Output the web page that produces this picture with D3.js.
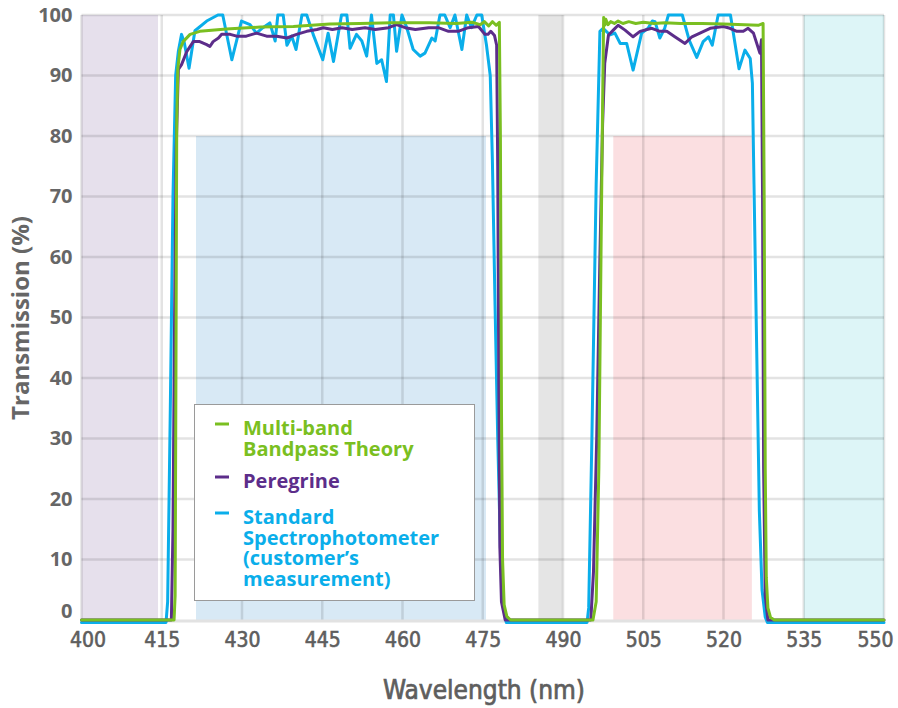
<!DOCTYPE html>
<html><head><meta charset="utf-8">
<script src="https://cdn.jsdelivr.net/npm/d3@7"></script>
<style>
html,body{margin:0;padding:0;background:#fff;}
svg{display:block;}
</style></head>
<body>
<svg id="chart" width="898" height="708"></svg>
<script>
// ---------- DATA ----------
const xTicks = [400,415,430,445,460,475,490,505,520,535,550];
const yTicks = [0,10,20,30,40,50,60,70,80,90,100];

// shaded wavelength regions: [start nm, end nm, top %]
const bandStart = [400, 421.4, 485.4, 499.4, 535.0];
const bandEnd   = [414.3, 475.6, 489.9, 525.3, 550.0];
const bandTop   = [100, 80, 100, 80, 100];

const seriesNames = ["Multi-band\nBandpass Theory", "Peregrine", "Standard\nSpectrophotometer\n(customer\u2019s\nmeasurement)"];

const theoryWl = [400,417.3,417.5,417.65,417.8,418.0,418.4,419.0,420.3,422.1,427.1,433.4,439.6,446.4,452,458,465,470,473,474.5,475.3,476.1,476.8,477.5,478.1,478.3,478.5,478.7,479.0,479.5,480.2,
  495.6,496.2,496.7,497.1,497.4,497.6,497.8,498.0,498.4,498.9,499.6,500.3,501.2,502.3,503.6,505,507,509,512,516,520,524,526.5,527.4,527.6,527.8,528.0,528.3,528.8,529.5,550];
const theoryT  = [0,0,4,40,82,91,94.3,95.6,96.8,97.3,97.7,98,98.1,98.5,98.6,98.7,98.7,98.6,98.8,98.4,98.9,98.2,98.9,98.3,98.8,80,35,10,2.5,0.6,0,
  0,3,25,60,85,99.6,98.3,99.3,98.4,98.9,98.6,99,98.6,98.9,98.6,98.8,98.6,98.7,98.6,98.6,98.5,98.4,98.3,98.6,70,25,7,2,0.4,0,0];

const peregrineWl = [400,416.8,417.1,417.4,417.7,418.1,418.7,419.7,420.9,422.1,423.4,424.0,424.6,425.6,426.2,427.8,429.0,430.8,432.7,434.6,436.5,438.4,440.2,442.1,444.0,445.2,446.9,448.7,450.6,453.0,454.9,457.4,458.9,460.5,462.4,464.9,466.7,468.6,470.4,472.3,474.2,475.4,476.0,476.5,477.2,477.6,477.8,478.0,478.2,478.5,479.2,
  495.2,495.7,496.3,496.9,497.4,497.8,498.5,499.4,500.3,501.6,503.1,504.4,506.6,508.1,509.4,510.9,512.8,514.1,515.6,517.5,520,521.2,522.5,523.7,524.6,525.6,526.8,527.1,527.3,527.5,527.8,528.3,550];
const peregrineT  = [0,0,15,50,78,91,91.8,94,95.6,95.6,95.1,94.8,95.6,96.2,96.8,96.8,96.5,96.5,97,96.5,96.5,96.2,96.8,97.3,97.6,97.9,97.6,97.9,97.6,97.9,97.6,97.9,98.4,97.9,97.6,97.9,97.9,97.3,97.3,97.9,98.1,96.8,96.8,97.3,96.6,95,75,40,12,3,0,
  0,8,30,60,82,92,96.7,97.5,98.3,97.5,96.4,97.3,97.8,97.3,97.3,96.4,95.3,96.4,97,97.8,98.1,97.8,97.3,97.3,97.8,97,93.7,95.9,70,25,4,0,0];

const spectroWl = [400,415.8,416.1,416.6,417.1,417.6,418.1,418.7,419.2,420.1,421.2,423.4,425.5,426.4,428.1,429.9,431.5,432.7,433.9,435.2,436.2,436.7,437.7,438.4,439.3,440.1,441.2,442.1,443.3,445.1,446.1,447.1,448.6,449.6,450.2,451.4,452.4,453.3,454.2,455.2,456.1,457.0,457.7,458.3,458.9,459.9,460.8,462.0,463.3,464.2,465.5,466.1,467.0,467.9,468.9,469.8,471.1,472.0,472.9,473.9,474.8,475.7,476.4,476.8,477.3,477.8,478.3,478.8,479.4,
  494.5,494.8,495.4,496.2,496.9,497.5,498.8,499.7,500.7,501.9,503.1,504.7,505.9,506.7,507.2,508.1,509.0,509.7,512.3,513.6,515.0,516.2,517.2,517.9,519.0,521.3,522.9,524.0,525.0,525.4,525.7,526.2,526.7,527.2,527.8,528.2,550];
const spectroT  = [-0.4,-0.4,3,35,70,90,94,96.8,95.5,91.2,97.4,99,100,100,92.6,99,98.4,97,97.9,98.7,95.7,100,100,95,96.5,94.3,100,100,96.8,92.6,97,92.3,100,100,94.5,96.8,95.7,93.2,100,92,92.6,89,100,100,94,100,97.9,94.3,93.2,93.7,96.2,95.7,100,100,97.9,100,94.3,100,97.9,100,100,95,90,76,52,30,12,3,-0.4,
  -0.4,2,30,72,97.3,97.8,96.7,97,95.3,95.3,90.9,97,97.8,99,98.9,96.2,97.8,100,100,95.8,93,95.6,96.4,95,100,100,91.1,94.2,92.8,88.7,72,45,18,5,0.5,-0.4,-0.4];

// ---------- STYLE ----------
const bandColors = ["#e6e0ec", "#d8e9f5", "#e5e5e5", "#fbdfe1", "#ddf5f7"];
const lineColors = ["#7abf21", "#5c2d8a", "#0aaeea"];

const svg = d3.select("#chart");
const x = d3.scaleLinear().domain([400, 550]).range([81.5, 884]);
const y = d3.scaleLinear().domain([0, 100]).range([620, 15]);

// bands
const bands = bandStart.map((s, i) => ({s, e: bandEnd[i], t: bandTop[i], c: bandColors[i]}));
svg.append("g").selectAll("rect").data(bands).join("rect")
  .attr("x", d => x(d.s)).attr("width", d => x(d.e) - x(d.s))
  .attr("y", d => y(d.t)).attr("height", d => y(0) - y(d.t))
  .attr("fill", d => d.c);

// grid
const grid = svg.append("g").attr("stroke", "rgba(0,0,0,0.11)").attr("stroke-width", 2.5);
grid.selectAll("line.h").data(yTicks.filter(v => v > 0)).join("line")
  .attr("x1", x(400)).attr("x2", x(550)).attr("y1", d => y(d)).attr("y2", d => y(d));
grid.selectAll("line.v").data(xTicks).join("line")
  .attr("y1", y(100)).attr("y2", y(0)).attr("x1", d => x(d)).attr("x2", d => x(d));

// x baseline
svg.append("line").attr("x1", x(400)).attr("x2", x(550)).attr("y1", y(0) + 1).attr("y2", y(0) + 1)
  .attr("stroke", "#e2e2e2").attr("stroke-width", 3);

// lines
const line = d3.line().x(d => x(d[0])).y(d => y(d[1])).curve(d3.curveLinear);
const series = [
  {wl: spectroWl, t: spectroT, c: lineColors[2]},
  {wl: peregrineWl, t: peregrineT, c: lineColors[1]},
  {wl: theoryWl, t: theoryT, c: lineColors[0]}
];
svg.append("g").selectAll("path").data(series).join("path")
  .attr("d", d => line(d.wl.map((w, i) => [w, d.t[i]])))
  .attr("fill", "none").attr("stroke", d => d.c).attr("stroke-width", 3)
  .attr("stroke-linejoin", "round").attr("stroke-linecap", "round");

// axes
const xAxis = svg.append("g").attr("transform", `translate(0,${y(0)})`)
  .call(d3.axisBottom(x).tickValues(xTicks).tickSize(0).tickPadding(12).tickFormat(d3.format("d")));
xAxis.select(".domain").remove();
xAxis.selectAll("text").attr("font-family", "'DejaVu Sans Condensed','DejaVu Sans',sans-serif")
  .attr("font-size", 21).attr("fill", "#5e5e5e").attr("stroke", "#5e5e5e").attr("stroke-width", 0.6)
  .attr("dx", d => d === 400 ? 6 : (d === 550 ? -9 : 0));

const yAxis = svg.append("g").attr("transform", `translate(${x(400)},0)`)
  .call(d3.axisLeft(y).tickValues(yTicks).tickSize(0).tickPadding(9).tickFormat(d3.format("d")));
yAxis.select(".domain").remove();
yAxis.selectAll("text").attr("font-family", "'Open Sans',sans-serif").attr("font-weight", 700)
  .attr("font-size", 20).attr("fill", "#666")
  .attr("dy", d => d === 0 ? "-0.15em" : "0.32em");

// axis titles
svg.append("text").attr("x", 484).attr("y", 699).attr("text-anchor", "middle")
  .attr("font-family", "'DejaVu Sans Condensed','DejaVu Sans',sans-serif").attr("font-size", 26)
  .attr("fill", "#5e5e5e").attr("stroke", "#5e5e5e").attr("stroke-width", 0.7)
  .text("Wavelength (nm)");
svg.append("text").attr("transform", "translate(29,318) rotate(-90)").attr("text-anchor", "middle")
  .attr("font-family", "'Open Sans',sans-serif").attr("font-weight", 700).attr("font-size", 24)
  .attr("fill", "#666").text("Transmission (%)");

// legend
const lg = svg.append("g");
lg.append("rect").attr("x", 194.5).attr("y", 404.5).attr("width", 280).attr("height", 196)
  .attr("fill", "#fff").attr("stroke", "#9a9a9a").attr("stroke-width", 1);
const legendItems = [
  {name: seriesNames[0], c: lineColors[0], y0: 428},
  {name: seriesNames[1], c: lineColors[1], y0: 481},
  {name: seriesNames[2], c: lineColors[2], y0: 517}
];
legendItems.forEach(it => {
  lg.append("line").attr("x1", 215).attr("x2", 229).attr("y1", it.y0 - 4).attr("y2", it.y0 - 4)
    .attr("stroke", it.c).attr("stroke-width", 3);
  const t = lg.append("text").attr("font-family", "'Open Sans',sans-serif").attr("font-weight", 700)
    .attr("font-size", 20).attr("fill", it.c);
  it.name.split("\n").forEach((s, k) => {
    t.append("tspan").attr("x", 243).attr("y", it.y0 + 7 + k * 20.5).text(s);
  });
});
</script>
</body></html>
